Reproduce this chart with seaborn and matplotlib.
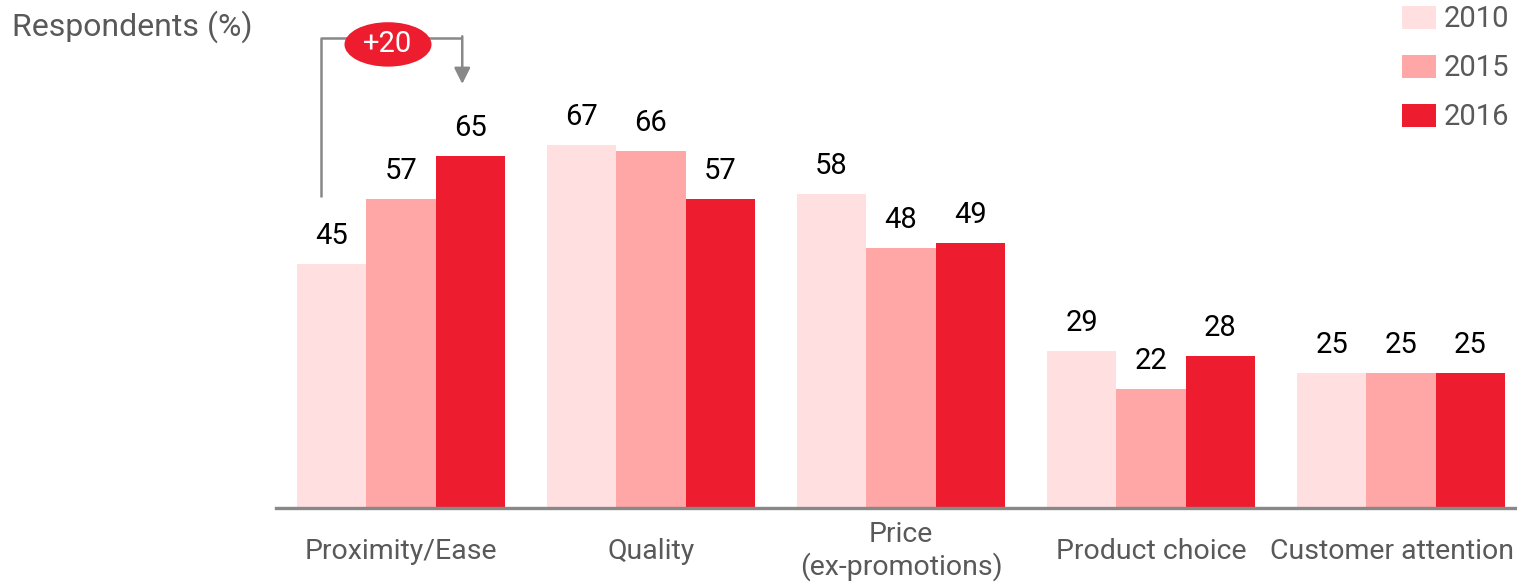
import matplotlib
matplotlib.use("Agg")
import matplotlib.pyplot as plt
import matplotlib.transforms as mtrans
import seaborn as sns
import pandas as pd
from matplotlib.patches import Ellipse, Patch

categories = ["Proximity/Ease", "Quality", "Price\n(ex-promotions)", "Product choice", "Customer attention"]
years = ["2010", "2015", "2016"]
v2010 = [45, 67, 58, 29, 25]
v2015 = [57, 66, 48, 22, 25]
v2016 = [65, 57, 49, 28, 25]
colors = ["#FFDFE0", "#FFA6A6", "#ED1C2E"]

rows = []
for y, vals in zip(years, [v2010, v2015, v2016]):
    for c, v in zip(categories, vals):
        rows.append({"category": c, "year": y, "value": v})
df = pd.DataFrame(rows)

sns.set_theme(style="white")
plt.rcParams['font.family'] = ['Roboto', 'DejaVu Sans']
TXT = "#595959"

fig = plt.figure(figsize=(15.17, 5.86), dpi=100)
ax = fig.add_axes([276/1517, 78/586, 1 - 276/1517, 487.4/586])

sns.barplot(data=df, x="category", y="value", hue="year", order=categories,
            hue_order=years, palette=colors, width=0.833, gap=0, ax=ax,
            saturation=1, legend=False, linewidth=0)

for cont in ax.containers:
    ax.bar_label(cont, fmt="%d", padding=10, fontsize=21, color="black")

ax.set_ylim(0, 90)
ax.set_xlim(-0.5, 4.464)
ax.set_xlabel("")
ax.set_ylabel("")
ax.set_yticks([])
for s in ["top", "right", "left"]:
    ax.spines[s].set_visible(False)
ax.spines["bottom"].set_color("#888888")
ax.spines["bottom"].set_linewidth(2.4)
ax.tick_params(axis="x", length=0, pad=31, labelsize=20.5, labelcolor=TXT)
labels = ax.get_xticklabels()
for lab in labels:
    lab.set_va("center")
    lab.set_linespacing(1.15)
# shift the last label left so it fits inside the figure
labels[-1].set_transform(labels[-1].get_transform() +
                         mtrans.ScaledTranslation(-9/100, 0, fig.dpi_scale_trans))

handles = [Patch(facecolor=c, edgecolor="none") for c in colors]
fig.legend(handles, years, loc="upper right",
           bbox_to_anchor=(1.0 + 10/1517, 1.012 + 5/586),
           frameon=False, fontsize=21, labelcolor=TXT, handlelength=1.17,
           handleheight=0.85, handletextpad=0.28, labelspacing=0.72,
           borderaxespad=0.2)

fig.text(12/1517, 1 - 27/586, "Respondents (%)", fontsize=23, color=TXT,
         va="center", ha="left")

# +20 annotation bracket
gray = "#888888"
ax.plot([-0.32, -0.32, 0.245], [57.4, 86.8, 86.8], color=gray, lw=1.8,
        clip_on=False, solid_capstyle="butt")
ax.annotate("", xy=(0.245, 78.3), xytext=(0.245, 87.1),
            arrowprops=dict(arrowstyle="-|>", color=gray, lw=1.8,
                            mutation_scale=24, shrinkA=0, shrinkB=0),
            annotation_clip=False)
ax.add_patch(Ellipse((-0.052, 85.6), 0.348, 8.2, facecolor="#ED1C2E",
                     edgecolor="none", clip_on=False, zorder=5))
ax.text(-0.052, 85.6, "+20", color="white", fontsize=21, ha="center",
        va="center", zorder=6)

fig.savefig("out.png", dpi=100)
